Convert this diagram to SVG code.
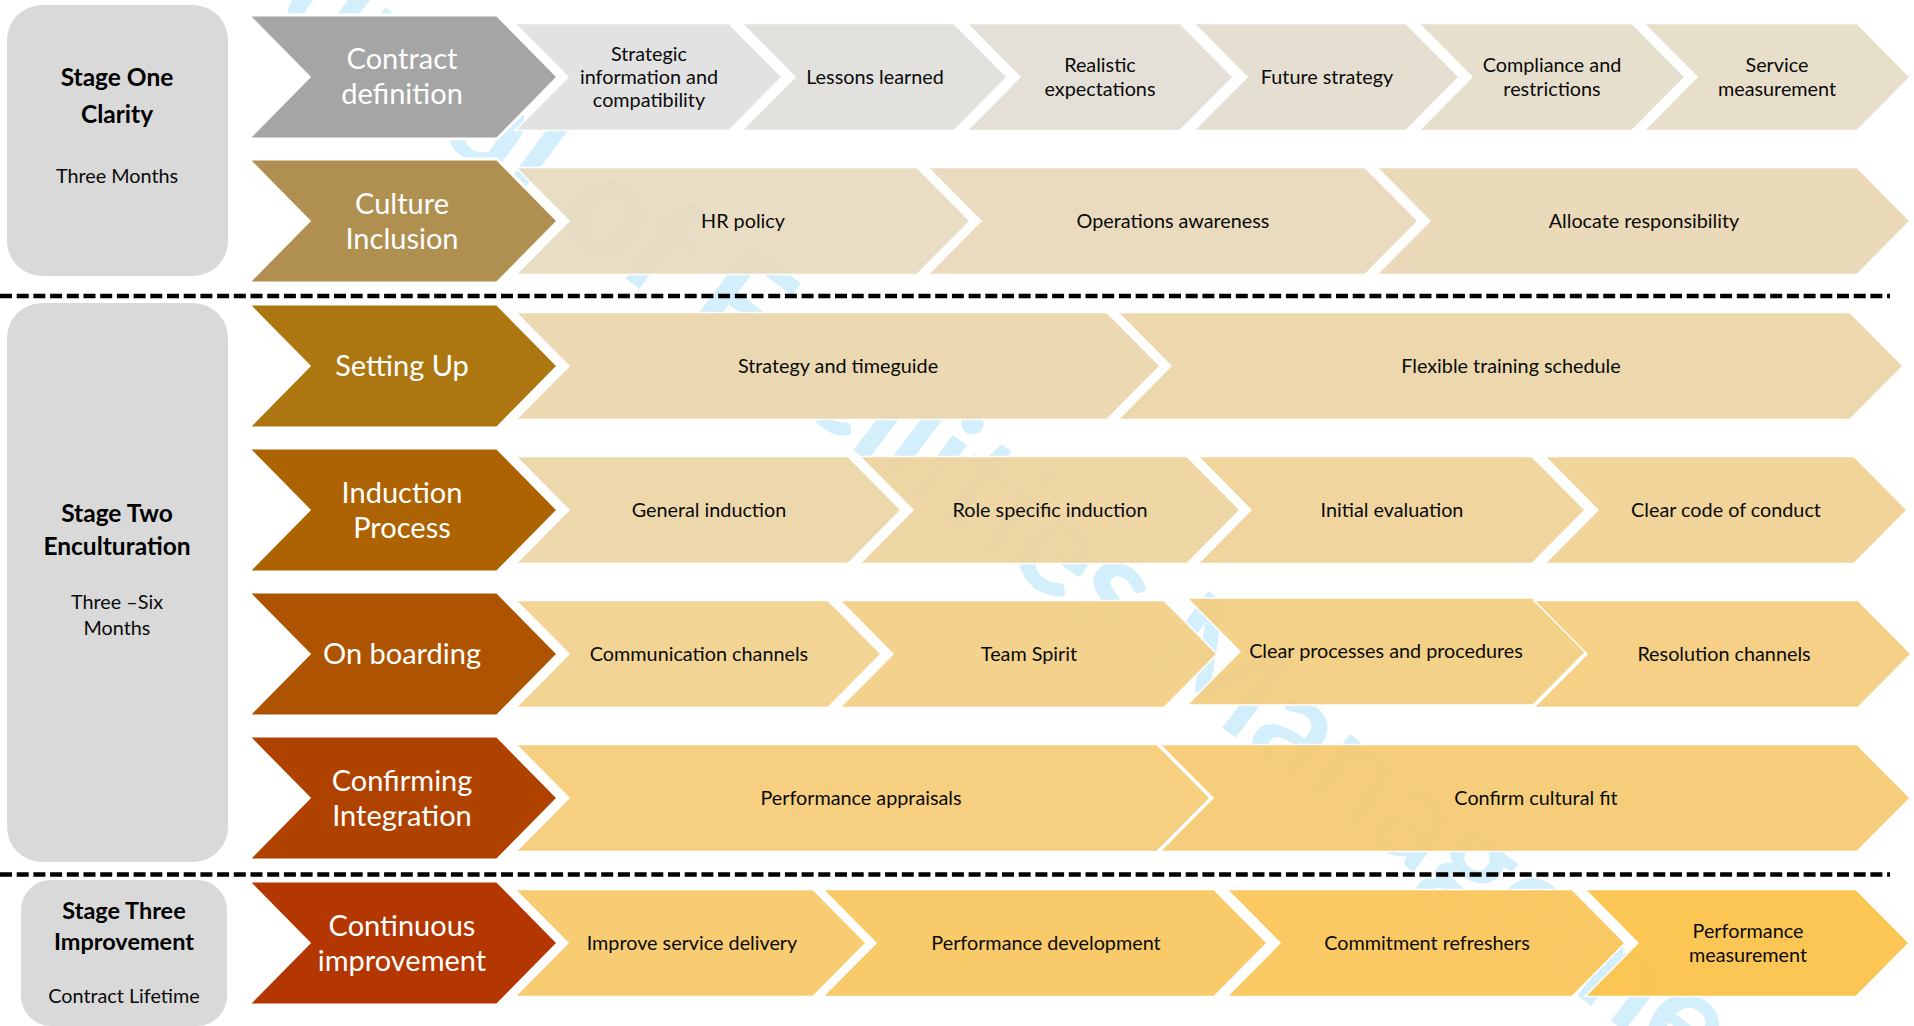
<svg xmlns="http://www.w3.org/2000/svg" width="1914" height="1026" viewBox="0 0 1914 1026">
<style>
  .stage { fill: #D9D9D9; }
  .main { stroke: #FFFFFF; stroke-width: 3; stroke-linejoin: miter; }
  .sub { stroke: #FFFFFF; stroke-width: 1.5; stroke-linejoin: miter; fill-opacity: 0.92; }
  .mt { font-family: Lato, "Open Sans", "Liberation Sans", sans-serif; font-size: 29px; fill: #FFFFFF; text-anchor: middle; }
  .st { font-family: Lato, "Open Sans", "Liberation Sans", sans-serif; font-size: 19.8px; fill: #0A0A0A; text-anchor: middle; }
  .sb { font-family: Lato, "Open Sans", "Liberation Sans", sans-serif; font-size: 24.5px; font-weight: bold; fill: #000000; text-anchor: middle; }
  .sr { font-family: Lato, "Open Sans", "Liberation Sans", sans-serif; font-size: 19.8px; fill: #0A0A0A; text-anchor: middle; }
  .dash { stroke: #000000; stroke-width: 4.5; stroke-dasharray: 12 4.7; fill: none; }
  .wm { font-family: Lato, "Open Sans", "Liberation Sans", sans-serif; font-size: 140px; font-weight: bold; fill: #D3EFFC; }
</style>
<rect width="1914" height="1026" fill="#FFFFFF"/>

<text class="wm" x="162" y="-71" transform="rotate(37 162 -71)">Journal of Facilities Management</text>

<g id="connectors">
  <line class="dash" x1="0" y1="296" x2="1890" y2="296"/>
  <line class="dash" x1="0" y1="874.5" x2="1890" y2="874.5"/>
</g>

<g id="stage-one">
  <rect class="stage" x="7" y="5" width="221" height="271" rx="35" ry="35"/>
  <text class="sb" x="117" y="86">Stage One</text>
  <text class="sb" x="117" y="123">Clarity</text>
  <text class="sr" x="117" y="183">Three Months</text>
</g>
<g id="stage-two">
  <rect class="stage" x="7" y="303" width="221" height="559" rx="35" ry="35"/>
  <text class="sb" x="117" y="522">Stage Two</text>
  <text class="sb" x="117" y="555">Enculturation</text>
  <text class="sr" x="117" y="609">Three –Six</text>
  <text class="sr" x="117" y="635">Months</text>
</g>
<g id="stage-three">
  <rect class="stage" x="21" y="880" width="206" height="146" rx="30" ry="30"/>
  <text class="sb" x="124" y="919" style="font-size:23.5px">Stage Three</text>
  <text class="sb" x="124" y="950" style="font-size:23.5px">Improvement</text>
  <text class="sr" x="124" y="1003">Contract Lifetime</text>
</g>

<!-- Row 1 -->
<g id="contract-definition">
  <polygon class="main" fill="#A5A5A5" points="248,15 497,15 558,77 497,139 248,139 309,77"/>
  <text class="mt" x="402" y="69">Contract</text>
  <text class="mt" x="402" y="104">definition</text>
</g>
<g id="strategic-information">
  <polygon class="sub" fill="#E0E0E0" points="515,23.5 729,23.5 782,77 729,130.5 515,130.5 568,77"/>
  <text class="st" x="649" y="61">Strategic</text>
  <text class="st" x="649" y="84">information and</text>
  <text class="st" x="649" y="107">compatibility</text>
</g>
<g id="lessons-learned">
  <polygon class="sub" fill="#E1DEDA" points="742,23.5 954,23.5 1007,77 954,130.5 742,130.5 795,77"/>
  <text class="st" x="875" y="83.5">Lessons learned</text>
</g>
<g id="realistic-expectations">
  <polygon class="sub" fill="#E2DDD5" points="967,23.5 1180,23.5 1233,77 1180,130.5 967,130.5 1020,77"/>
  <text class="st" x="1100" y="72">Realistic</text>
  <text class="st" x="1100" y="95.5">expectations</text>
</g>
<g id="future-strategy">
  <polygon class="sub" fill="#E3DCCE" points="1194,23.5 1406,23.5 1459,77 1406,130.5 1194,130.5 1247,77"/>
  <text class="st" x="1327" y="83.5">Future strategy</text>
</g>
<g id="compliance">
  <polygon class="sub" fill="#E5DCC9" points="1419,23.5 1632,23.5 1685,77 1632,130.5 1419,130.5 1472,77"/>
  <text class="st" x="1552" y="72">Compliance and</text>
  <text class="st" x="1552" y="95.5">restrictions</text>
</g>
<g id="service-measurement">
  <polygon class="sub" fill="#E6DCC5" points="1644,23.5 1857,23.5 1910,77 1857,130.5 1644,130.5 1697,77"/>
  <text class="st" x="1777" y="72">Service</text>
  <text class="st" x="1777" y="95.5">measurement</text>
</g>

<!-- Row 2 -->
<g id="culture-inclusion">
  <polygon class="main" fill="#B09050" points="248,159 497,159 558,221 497,283 248,283 309,221"/>
  <text class="mt" x="402" y="213.5">Culture</text>
  <text class="mt" x="402" y="248.5">Inclusion</text>
</g>
<g id="hr-policy">
  <polygon class="sub" fill="#E7DABF" points="516,167.5 917,167.5 970,221 917,274.5 516,274.5 569,221"/>
  <text class="st" x="743" y="227.5">HR policy</text>
</g>
<g id="operations-awareness">
  <polygon class="sub" fill="#E8D8B8" points="928,167.5 1365,167.5 1418,221 1365,274.5 928,274.5 981,221"/>
  <text class="st" x="1173" y="227.5">Operations awareness</text>
</g>
<g id="allocate-responsibility">
  <polygon class="sub" fill="#E9D7B3" points="1377,167.5 1857,167.5 1910,221 1857,274.5 1377,274.5 1430,221"/>
  <text class="st" x="1644" y="227.5">Allocate responsibility</text>
</g>

<!-- Row 3 -->
<g id="setting-up">
  <polygon class="main" fill="#AC7711" points="248,304 497,304 558,366 497,428 248,428 309,366"/>
  <text class="mt" x="402" y="376">Setting Up</text>
</g>
<g id="strategy-timeguide">
  <polygon class="sub" fill="#EAD6AB" points="516,312.5 1107,312.5 1160,366 1107,419.5 516,419.5 569,366"/>
  <text class="st" x="838" y="372.5">Strategy and timeguide</text>
</g>
<g id="flexible-training">
  <polygon class="sub" fill="#EBD5A7" points="1118,312.5 1850,312.5 1903,366 1850,419.5 1118,419.5 1171,366"/>
  <text class="st" x="1511" y="372.5">Flexible training schedule</text>
</g>

<!-- Row 4 -->
<g id="induction-process">
  <polygon class="main" fill="#AD6301" points="248,448 497,448 558,510 497,572 248,572 309,510"/>
  <text class="mt" x="402" y="502.5">Induction</text>
  <text class="mt" x="402" y="537.5">Process</text>
</g>
<g id="general-induction">
  <polygon class="sub" fill="#ECD5A5" points="516,456.5 848,456.5 901,510 848,563.5 516,563.5 569,510"/>
  <text class="st" x="709" y="516.5">General induction</text>
</g>
<g id="role-specific-induction">
  <polygon class="sub" fill="#EED29D" points="860,456.5 1187,456.5 1240,510 1187,563.5 860,563.5 913,510"/>
  <text class="st" x="1050" y="516.5">Role specific induction</text>
</g>
<g id="initial-evaluation">
  <polygon class="sub" fill="#EFD197" points="1198,456.5 1532,456.5 1585,510 1532,563.5 1198,563.5 1251,510"/>
  <text class="st" x="1392" y="516.5">Initial evaluation</text>
</g>
<g id="clear-code">
  <polygon class="sub" fill="#F0D090" points="1545,456.5 1854,456.5 1907,510 1854,563.5 1545,563.5 1598,510"/>
  <text class="st" x="1726" y="516.5">Clear code of conduct</text>
</g>

<!-- Row 5 -->
<g id="on-boarding">
  <polygon class="main" fill="#AE5400" points="248,592 497,592 558,654 497,716 248,716 309,654"/>
  <text class="mt" x="402" y="664">On boarding</text>
</g>
<g id="communication-channels">
  <polygon class="sub" fill="#F1D08C" points="516,600.5 828,600.5 881,654 828,707.5 516,707.5 569,654"/>
  <text class="st" x="699" y="660.5">Communication channels</text>
</g>
<g id="team-spirit">
  <polygon class="sub" fill="#F2CE84" points="840,600.5 1164,600.5 1217,654 1164,707.5 840,707.5 893,654"/>
  <text class="st" x="1029" y="660.5">Team Spirit</text>
</g>
<g id="clear-processes">
  <polygon class="sub" fill="#F2CD7E" points="1187,598 1533,598 1586,651.5 1533,705 1187,705 1240,651.5"/>
  <text class="st" x="1386" y="658">Clear processes and procedures</text>
</g>
<g id="resolution-channels">
  <polygon class="sub" fill="#F4CC7C" points="1534,600.5 1858,600.5 1911,654 1858,707.5 1534,707.5 1587,654"/>
  <text class="st" x="1724" y="660.5">Resolution channels</text>
</g>

<!-- Row 6 -->
<g id="confirming-integration">
  <polygon class="main" fill="#B04200" points="248,736 497,736 558,798 497,860 248,860 309,798"/>
  <text class="mt" x="402" y="790.5">Confirming</text>
  <text class="mt" x="402" y="825.5">Integration</text>
</g>
<g id="performance-appraisals">
  <polygon class="sub" fill="#F5CB75" points="516,744.5 1157,744.5 1210,798 1157,851.5 516,851.5 569,798"/>
  <text class="st" x="861" y="804.5">Performance appraisals</text>
</g>
<g id="confirm-cultural-fit">
  <polygon class="sub" fill="#F5CA70" points="1160,744.5 1857,744.5 1910,798 1857,851.5 1160,851.5 1213,798"/>
  <text class="st" x="1536" y="804.5">Confirm cultural fit</text>
</g>

<!-- Row 7 -->
<g id="continuous-improvement">
  <polygon class="main" fill="#B43600" points="248,881 497,881 558,943 497,1005 248,1005 309,943"/>
  <text class="mt" x="402" y="935.5">Continuous</text>
  <text class="mt" x="402" y="970.5">improvement</text>
</g>
<g id="improve-service-delivery">
  <polygon class="sub" fill="#F7C866" points="515,889.5 813,889.5 866,943 813,996.5 515,996.5 568,943"/>
  <text class="st" x="692" y="949.5">Improve service delivery</text>
</g>
<g id="performance-development">
  <polygon class="sub" fill="#F8C55D" points="823,889.5 1214,889.5 1267,943 1214,996.5 823,996.5 876,943"/>
  <text class="st" x="1046" y="949.5">Performance development</text>
</g>
<g id="commitment-refreshers">
  <polygon class="sub" fill="#FAC457" points="1227,889.5 1572,889.5 1625,943 1572,996.5 1227,996.5 1280,943"/>
  <text class="st" x="1427" y="949.5">Commitment refreshers</text>
</g>
<g id="performance-measurement">
  <polygon class="sub" fill="#FCC147" points="1585,889.5 1856,889.5 1909,943 1856,996.5 1585,996.5 1638,943"/>
  <text class="st" x="1748" y="938">Performance</text>
  <text class="st" x="1748" y="961.5">measurement</text>
</g>
</svg>
